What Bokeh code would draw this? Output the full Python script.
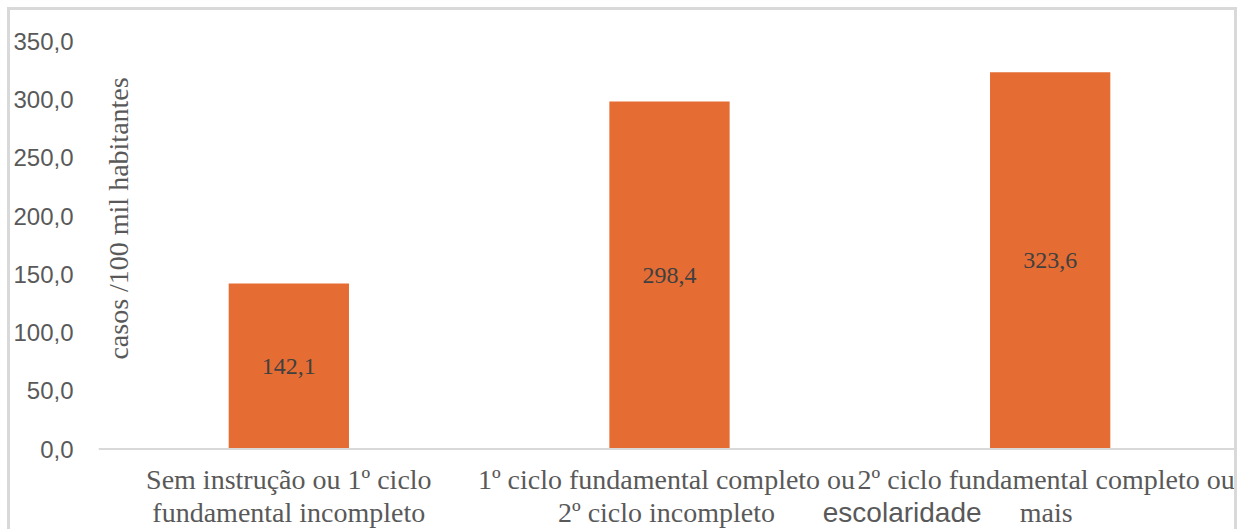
import math
from bokeh.plotting import figure
from bokeh.models import FactorRange, Range1d, FixedTicker, Label, ColumnDataSource, Span
from bokeh.embed import file_html
from bokeh.resources import INLINE
from bokeh.core.properties import value

# ---- data ----
categories = ["cat1", "cat2", "cat3"]
cat_labels = [
    "Sem instrução ou 1º ciclo\nfundamental incompleto",
    "1º ciclo fundamental completo ou\n2º ciclo incompleto",
    "2º ciclo fundamental completo ou\nmais",
]
extra_label = "escolaridade"
values = [142.1, 298.4, 323.6]
y_ticks = [0, 50, 100, 150, 200, 250, 300, 350]
y_title = "casos /100 mil habitantes"

# ---- style ----
BAR = "#E56D33"
GRAY = "#595959"
SERIF = "Liberation Serif"
SANS = "Liberation Sans"
label_shift = [0, -3, -4]  # small horizontal nudges (px) of the category labels

p = figure(
    x_range=FactorRange(*categories, range_padding=0),
    y_range=Range1d(-71.7, 350),
    width=1230, height=522,
    output_backend="svg", toolbar_location=None,
    x_axis_location=None,
    min_border_left=87, min_border_right=0, min_border_top=31, min_border_bottom=0,
)
p.styles = {
    "border-top": "3px solid #d9d9d9",
    "border-left": "3px solid #d9d9d9",
    "border-right": "3px solid #d9d9d9",
    "margin-top": "7px",
    "margin-left": "7px",
}
p.outline_line_color = None
p.xgrid.visible = False
p.ygrid.visible = False

src = ColumnDataSource(dict(
    cat=categories,
    val=values,
    mid=[v / 2 for v in values],
    lbl=[f"{v:.1f}".replace(".", ",") for v in values],
    name=cat_labels,
    zero=[0] * len(values),
    dx=label_shift,
))
p.vbar(x="cat", top="val", width=0.316, source=src, fill_color=BAR, line_color=None)
p.text(x="cat", y="mid", text="lbl", source=src, text_align="center", text_baseline="middle",
       text_font=value(SERIF), text_font_size="24px", text_color="#404040")

# baseline (category axis line)
p.add_layout(Span(location=0, dimension="width", line_color="#d9d9d9", line_width=2))

# category labels
p.text(x="cat", y="zero", text="name", source=src, text_align="center", text_baseline="top",
       x_offset="dx", y_offset=15, text_font=value(SERIF), text_font_size="28px", text_color=GRAY,
       text_line_height=1.06)
p.text(x=[categories[2]], y=[0], text=[extra_label], text_align="center", text_baseline="middle",
       x_offset=-148, y_offset=63, text_font=value(SANS), text_font_size="28px", text_color=GRAY)

# y axis
p.yaxis.ticker = FixedTicker(ticks=y_ticks)
p.yaxis.major_label_overrides = {t: f"{t:.1f}".replace(".", ",") for t in y_ticks}
p.yaxis.axis_line_color = None
p.yaxis.major_tick_line_color = None
p.yaxis.minor_tick_line_color = None
p.yaxis.major_tick_out = 0
p.yaxis.major_label_standoff = 25
p.yaxis.major_label_text_font = SANS
p.yaxis.major_label_text_font_size = "24px"
p.yaxis.major_label_text_color = GRAY

p.add_layout(Label(x=0.052, y=198, text=y_title, angle=math.pi / 2, text_align="center",
                   text_baseline="middle", text_font=SERIF, text_font_size="28px", text_color=GRAY))

open("out.html", "w").write(file_html(p, INLINE))
